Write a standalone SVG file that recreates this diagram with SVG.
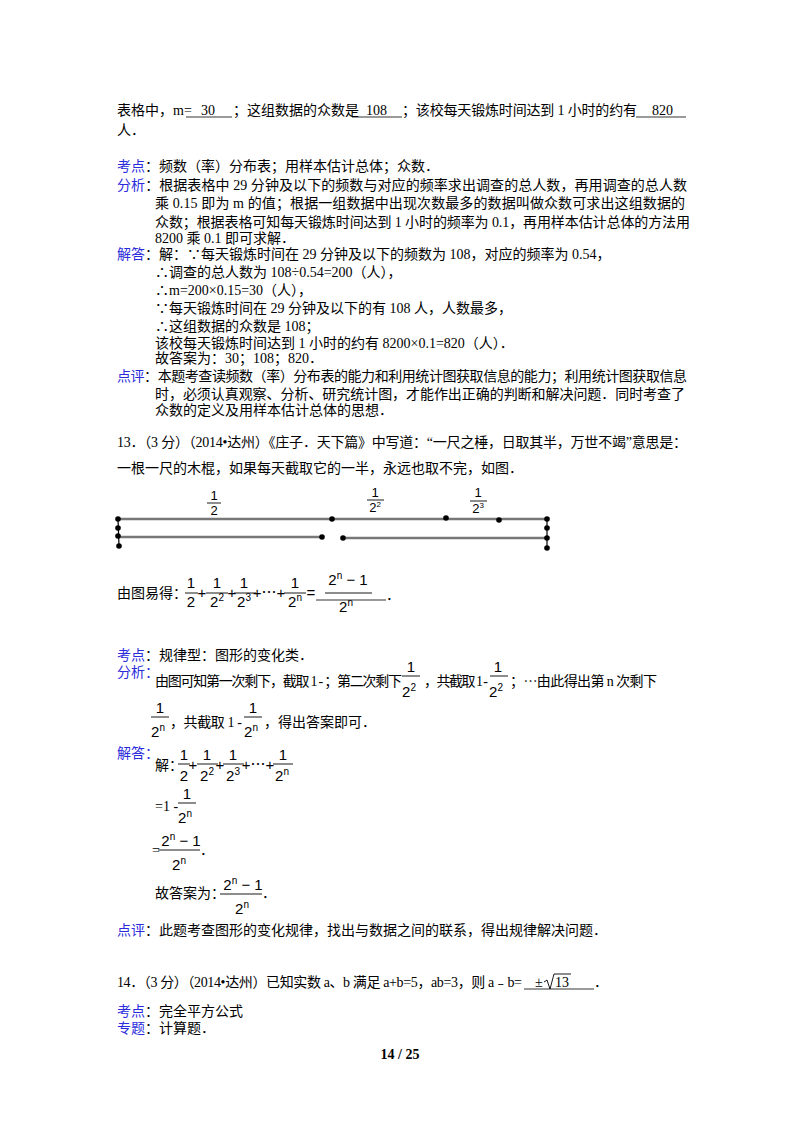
<svg xmlns="http://www.w3.org/2000/svg" width="800" height="1132" viewBox="0 0 800 1132">
<style>
text{font-family:"Liberation Serif","Noto Sans CJK SC",serif;font-size:14px;fill:#000}
.b{fill:#2b2bdc}
.m text,text.m{font-family:"Liberation Sans","Noto Sans CJK SC",sans-serif;font-size:15px}
.s{font-size:10px}
.u{stroke:#000;stroke-width:0.8}
.f{stroke:#000;stroke-width:0.9}
</style>
<rect width="800" height="1132" fill="#fff"/>
<g id="top">
<text x="117" y="115">表格中，m=</text><text x="201" y="115">30</text><text x="233" y="115">；这组数据的众数是</text><text x="366" y="115">108</text><text x="402" y="115" textLength="235">；该校每天锻炼时间达到 1 小时的约有</text><text x="652" y="115">820</text>
<line class="u" x1="186" y1="117" x2="232" y2="117"/><line class="u" x1="352" y1="117" x2="402" y2="117"/><line class="u" x1="636" y1="117" x2="686" y2="117"/>
<text x="117" y="135">人．</text>
</g>
<g id="q12">
<text x="117" y="171"><tspan class="b">考点</tspan>：频数（率）分布表；用样本估计总体；众数．</text>
<text x="117" y="190" textLength="570"><tspan class="b">分析</tspan>：根据表格中 29 分钟及以下的频数与对应的频率求出调查的总人数，再用调查的总人数</text>
<text x="155" y="208" textLength="530">乘 0.15 即为 m 的值；根据一组数据中出现次数最多的数据叫做众数可求出这组数据的</text>
<text x="155" y="227" textLength="535">众数；根据表格可知每天锻炼时间达到 1 小时的频率为 0.1，再用样本估计总体的方法用</text>
<text x="155" y="243">8200 乘 0.1 即可求解．</text>
<text x="117" y="259"><tspan class="b">解答</tspan>：解：∵每天锻炼时间在 29 分钟及以下的频数为 108，对应的频率为 0.54，</text>
<text x="155" y="277">∴调查的总人数为 108÷0.54=200（人），</text>
<text x="155" y="295">∴m=200×0.15=30（人），</text>
<text x="155" y="313">∵每天锻炼时间在 29 分钟及以下的有 108 人，人数最多，</text>
<text x="155" y="331">∴这组数据的众数是 108；</text>
<text x="155" y="348">该校每天锻炼时间达到 1 小时的约有 8200×0.1=820（人）．</text>
<text x="155" y="363">故答案为：30；108；820．</text>
<text x="117" y="381" textLength="570"><tspan class="b">点评</tspan>：本题考查读频数（率）分布表的能力和利用统计图获取信息的能力；利用统计图获取信息</text>
<text x="155" y="399" textLength="530">时，必须认真观察、分析、研究统计图，才能作出正确的判断和解决问题．同时考查了</text>
<text x="155" y="415">众数的定义及用样本估计总体的思想．</text>
</g>
<g id="q13">
<text x="117" y="447" textLength="570">13．（3 分）（2014•达州）《庄子．天下篇》中写道：“一尺之棰，日取其半，万世不竭”意思是：</text>
<text x="117" y="473">一根一尺的木棍，如果每天截取它的一半，永远也取不完，如图．</text>
</g>
<g id="figure">
<g stroke="#777" stroke-width="2.5"><line x1="118" y1="519" x2="547" y2="519"/><line x1="118" y1="537" x2="322" y2="537"/><line x1="343" y1="538" x2="547" y2="538"/></g>
<g stroke="#000" stroke-width="1.2"><line x1="118" y1="519" x2="119" y2="546"/><line x1="547" y1="519" x2="547" y2="548"/></g>
<g fill="#000"><circle cx="118" cy="519" r="2.8"/><circle cx="118" cy="528" r="2.8"/><circle cx="118" cy="536" r="2.8"/><circle cx="119" cy="546" r="2.8"/><circle cx="332" cy="519" r="2.8"/><circle cx="446" cy="518" r="2.8"/><circle cx="499" cy="520" r="2.8"/><circle cx="547" cy="519" r="2.8"/><circle cx="547" cy="528" r="2.8"/><circle cx="547" cy="538" r="2.8"/><circle cx="547" cy="548" r="2.8"/><circle cx="322" cy="537" r="2.8"/><circle cx="343" cy="538" r="2.8"/></g>
<g text-anchor="middle">
<text x="214" y="500" class="m" style="font-size:13px">1</text><line class="f" x1="207" y1="503" x2="221" y2="503"/><text x="214" y="515" class="m" style="font-size:13px">2</text>
<text x="375" y="497" class="m" style="font-size:13px">1</text><line class="f" x1="367" y1="500" x2="384" y2="500"/><text x="375" y="512" class="m" style="font-size:13px">2<tspan style="font-size:8px" dy="-5">2</tspan></text>
<text x="478" y="497" class="m" style="font-size:13px">1</text><line class="f" x1="470" y1="501" x2="487" y2="501"/><text x="478" y="513" class="m" style="font-size:13px">2<tspan style="font-size:8px" dy="-5">3</tspan></text>
</g>
</g>
<g id="eq">
<text x="117" y="598">由图易得：</text>
<g class="m" text-anchor="middle">
<text x="191" y="588">1</text><line class="f" x1="185" y1="593" x2="198" y2="593"/><text x="191" y="607">2</text>
<text x="202" y="598">+</text>
<text x="217" y="588">1</text><line class="f" x1="206" y1="593" x2="228" y2="593"/><text x="217" y="607">2<tspan class="s" dy="-6">2</tspan></text>
<text x="232" y="598">+</text>
<text x="244" y="588">1</text><line class="f" x1="234" y1="593" x2="256" y2="593"/><text x="244" y="607">2<tspan class="s" dy="-6">3</tspan></text>
<text x="269" y="598">+⋯+</text>
<text x="295" y="588">1</text><line class="f" x1="284" y1="593" x2="306" y2="593"/><text x="295" y="607">2<tspan class="s" dy="-6">n</tspan></text>
<text x="311" y="598">=</text>
<text x="348" y="585">2<tspan class="s" dy="-6">n</tspan><tspan dy="6"> − 1</tspan></text><line class="f" x1="325" y1="593" x2="372" y2="593"/><text x="346" y="612">2<tspan class="s" dy="-6">n</tspan></text>
</g>
<line class="u" x1="316" y1="600" x2="386" y2="600"/><text x="386" y="600">．</text>
</g>
<g id="ana13">
<text x="117" y="660"><tspan class="b">考点</tspan>：规律型：图形的变化类．</text>
<text x="117" y="677" class="b">分析：</text>
<text x="155" y="686" textLength="247">由图可知第一次剩下，截取 1 - ；第二次剩下</text>
<g class="m" text-anchor="middle">
<text x="411" y="672">1</text><line class="f" x1="402" y1="676" x2="420" y2="676"/><text x="409" y="697">2<tspan class="s" dy="-6">2</tspan></text>
<text x="498" y="672">1</text><line class="f" x1="490" y1="676" x2="508" y2="676"/><text x="496" y="697">2<tspan class="s" dy="-6">2</tspan></text>
<text x="160" y="713">1</text><line class="f" x1="151" y1="717" x2="169" y2="717"/><text x="158" y="737">2<tspan class="s" dy="-6">n</tspan></text>
<text x="253" y="713">1</text><line class="f" x1="244" y1="717" x2="262" y2="717"/><text x="251" y="737">2<tspan class="s" dy="-6">n</tspan></text>
</g>
<text x="424" y="686" textLength="64">，共截取 1 -</text>
<text x="510" y="686" textLength="147">；⋯由此得出第 n 次剩下</text>
<text x="170" y="727" textLength="72">，共截取 1 -</text>
<text x="264" y="727">，得出答案即可．</text>
<text x="117" y="758" class="b">解答：</text>
<text x="155" y="770">解：</text>
<g class="m" text-anchor="middle">
<text x="184" y="760">1</text><line class="f" x1="178" y1="764" x2="190" y2="764"/><text x="184" y="781">2</text>
<text x="193" y="770">+</text>
<text x="207" y="760">1</text><line class="f" x1="197" y1="764" x2="218" y2="764"/><text x="207" y="781">2<tspan class="s" dy="-6">2</tspan></text>
<text x="220" y="770">+</text>
<text x="233" y="760">1</text><line class="f" x1="223" y1="764" x2="244" y2="764"/><text x="233" y="781">2<tspan class="s" dy="-6">3</tspan></text>
<text x="258" y="770">+⋯+</text>
<text x="283" y="760">1</text><line class="f" x1="273" y1="764" x2="293" y2="764"/><text x="282" y="781">2<tspan class="s" dy="-6">n</tspan></text>
<text x="187" y="799">1</text><line class="f" x1="178" y1="803" x2="196" y2="803"/><text x="185" y="823">2<tspan class="s" dy="-6">n</tspan></text>
<text x="181" y="846">2<tspan class="s" dy="-6">n</tspan><tspan dy="6"> − 1</tspan></text><line class="f" x1="158" y1="850" x2="200" y2="850"/><text x="179" y="870">2<tspan class="s" dy="-6">n</tspan></text>
<text x="243" y="890">2<tspan class="s" dy="-6">n</tspan><tspan dy="6"> − 1</tspan></text><line class="f" x1="220" y1="894" x2="262" y2="894"/><text x="242" y="914">2<tspan class="s" dy="-6">n</tspan></text>
</g>
<text x="155" y="811">=1 -</text>
<text x="152" y="855">=</text>
<text x="200" y="855">．</text>
<text x="155" y="898">故答案为：</text>
<text x="262" y="898">．</text>
<text x="117" y="935"><tspan class="b">点评</tspan>：此题考查图形的变化规律，找出与数据之间的联系，得出规律解决问题．</text>
</g>
<g id="q14">
<text x="117" y="987" textLength="405">14．（3 分）（2014•达州）已知实数 a、b 满足 a+b=5，ab=3，则 a﹣b=</text>
<text x="535" y="987">±</text>
<path d="M544 982 l3 -2 l3 9 l4 -15 h17" fill="none" stroke="#000" stroke-width="0.9"/>
<text x="555" y="987">13</text>
<line class="u" x1="524" y1="989" x2="594" y2="989"/><text x="594" y="987">．</text>
<text x="117" y="1016"><tspan class="b">考点</tspan>：完全平方公式</text>
<text x="117" y="1033"><tspan class="b">专题</tspan>：计算题．</text>
</g>
<text x="400" y="1059" text-anchor="middle" font-weight="bold" font-size="14">14 / 25</text>
</svg>
